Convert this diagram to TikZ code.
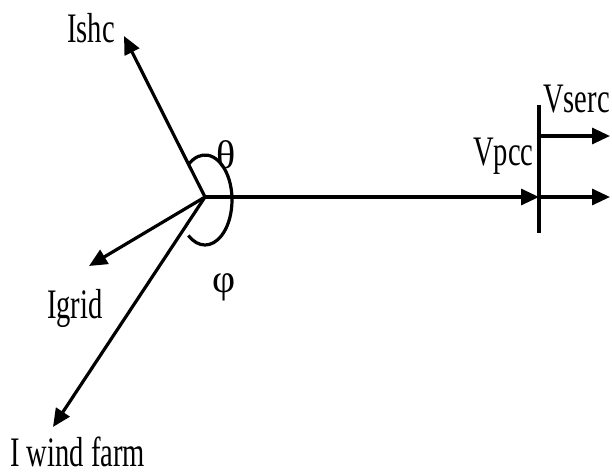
\documentclass[tikz,border=0pt]{standalone}
\usepackage{fontspec}
\setmainfont{Liberation Serif}
\newfontfamily\lblfont[FakeStretch=0.68]{Liberation Serif}
\usetikzlibrary{arrows.meta}
\tikzset{
  vlbl/.style={inner sep=0pt, anchor=base west, font=\lblfont\fontsize{42}{42}\selectfont},
  glbl/.style={inner sep=0pt, anchor=base west, font=\fontsize{40}{40}\selectfont},
  varr/.style={-{Triangle[length=18pt,width=16pt]}, line width=3.2pt},
  vline/.style={line width=3.2pt}
}

\begin{document}
\begin{tikzpicture}[x=1pt,y=1pt]
\useasboundingbox (0,0) rectangle (612,-474);
\coordinate (o) at (205,-197);
\coordinate (ishc) at (124,-36);
\coordinate (igrid) at (89,-266);
\coordinate (iwind) at (53,-427);
\coordinate (vpcc) at (539,-197);
\coordinate (bt) at (539,-105);
\coordinate (bb) at (539,-233);
\coordinate (vs) at (539,-136);
\coordinate (vse) at (610,-136);
\coordinate (vpe) at (610,-197);
\coordinate (c) at (205,-200);
\node[vlbl] (l1) at (67,-42) {Ishc};
\node[vlbl] (l2) at (47,-318) {Igrid};
\node[vlbl] (l3) at (10,-466) {I wind farm};
\node[vlbl] (l4) at (473,-165) {Vpcc};
\node[vlbl] (l5) at (543,-112) {Vserc};
\node[glbl] (l6) at (216,-168) {θ};
\node[glbl] (l7) at (212,-292) {φ};
\draw[varr] (o)--(ishc); \draw[varr] (o)--(igrid); \draw[varr] (o)--(iwind);
\draw[varr] (o)--(vpcc); \draw[vline] (bt)--(bb);
\draw[varr] (vs)--(vse); \draw[varr] (vpcc)--(vpe);
\draw[vline] ([shift={(128:27 and 45)}]c) arc[start angle=128, end angle=-128, x radius=27, y radius=45];
\end{tikzpicture}
\end{document}
